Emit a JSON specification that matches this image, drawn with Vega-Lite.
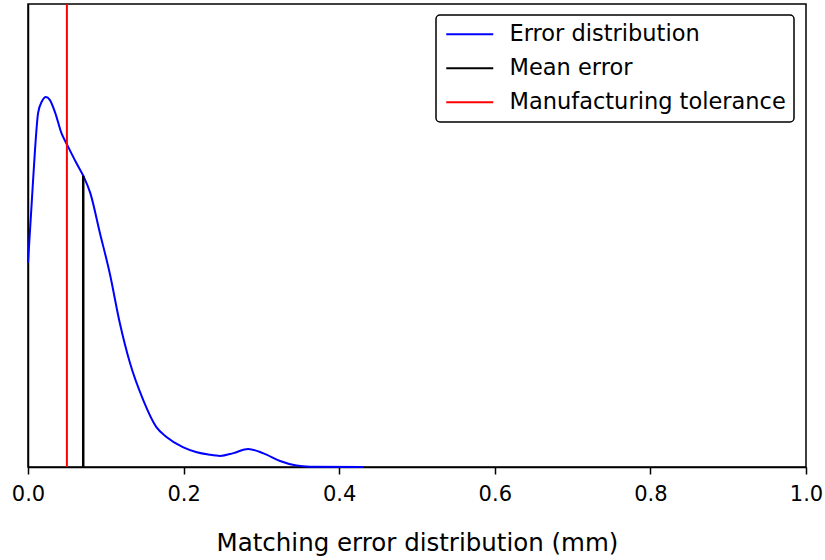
{
  "$schema": "https://vega.github.io/schema/vega-lite/v6.json",
  "width": 778,
  "height": 463,
  "autosize": {"type": "none"},
  "padding": {"left": 28, "top": 4, "right": 19, "bottom": 93},
  "background": "white",
  "config": {
    "font": "DejaVu Sans",
    "view": {"stroke": "black", "strokeWidth": 1.5},
    "axis": {"grid": false, "domainColor": "black", "domainWidth": 1.5, "tickColor": "black", "tickWidth": 1.5, "labelColor": "black", "titleColor": "black", "labelFont": "DejaVu Sans", "titleFont": "DejaVu Sans"},
    "legend": {"strokeColor": "black", "strokeWidth": 1.5, "fillColor": "white", "cornerRadius": 4, "padding": 8, "labelFont": "DejaVu Sans", "labelFontSize": 22.5, "labelColor": "black", "labelLimit": 500, "symbolType": "M-0.9,0H3.8", "symbolStrokeWidth": 2, "symbolSize": 400, "labelOffset": 43, "rowPadding": 11}
  },
  "datasets": {
    "curve": [
      {"x": 0, "d": 4.41, "series": "Error distribution"},
      {"x": 0.005, "d": 5.77, "series": "Error distribution"},
      {"x": 0.009, "d": 6.85, "series": "Error distribution"},
      {"x": 0.013, "d": 7.65, "series": "Error distribution"},
      {"x": 0.018, "d": 7.9, "series": "Error distribution"},
      {"x": 0.023, "d": 7.99, "series": "Error distribution"},
      {"x": 0.028, "d": 7.93, "series": "Error distribution"},
      {"x": 0.035, "d": 7.65, "series": "Error distribution"},
      {"x": 0.043, "d": 7.21, "series": "Error distribution"},
      {"x": 0.05, "d": 6.97, "series": "Error distribution"},
      {"x": 0.062, "d": 6.57, "series": "Error distribution"},
      {"x": 0.071, "d": 6.29, "series": "Error distribution"},
      {"x": 0.08, "d": 5.92, "series": "Error distribution"},
      {"x": 0.0925, "d": 5.05, "series": "Error distribution"},
      {"x": 0.105, "d": 4.19, "series": "Error distribution"},
      {"x": 0.118, "d": 3.11, "series": "Error distribution"},
      {"x": 0.131, "d": 2.25, "series": "Error distribution"},
      {"x": 0.148, "d": 1.45, "series": "Error distribution"},
      {"x": 0.165, "d": 0.86, "series": "Error distribution"},
      {"x": 0.178, "d": 0.65, "series": "Error distribution"},
      {"x": 0.199, "d": 0.43, "series": "Error distribution"},
      {"x": 0.217, "d": 0.32, "series": "Error distribution"},
      {"x": 0.232, "d": 0.27, "series": "Error distribution"},
      {"x": 0.247, "d": 0.24, "series": "Error distribution"},
      {"x": 0.264, "d": 0.3, "series": "Error distribution"},
      {"x": 0.283, "d": 0.39, "series": "Error distribution"},
      {"x": 0.302, "d": 0.3, "series": "Error distribution"},
      {"x": 0.324, "d": 0.13, "series": "Error distribution"},
      {"x": 0.345, "d": 0.03, "series": "Error distribution"},
      {"x": 0.362, "d": 0.006, "series": "Error distribution"},
      {"x": 0.431, "d": 0, "series": "Error distribution"}
    ],
    "mean": [{"x": 0.071, "lo": 0, "hi": 6.29, "series": "Mean error"}],
    "tol": [{"x": 0.05, "series": "Manufacturing tolerance"}]
  },
  "layer": [
    {
      "data": {"name": "curve"},
      "mark": {"type": "line", "interpolate": "monotone", "strokeWidth": 2},
      "encoding": {
        "x": {"field": "x", "type": "quantitative", "scale": {"domain": [0, 1], "nice": false}, "axis": {"title": "Matching error distribution (mm)", "values": [0, 0.2, 0.4, 0.6, 0.8, 1.0], "format": ".1f", "labelFontSize": 21, "titleFontSize": 24.5, "titleFontWeight": "normal", "tickSize": 7, "labelPadding": 9, "titlePadding": 27, "labelFlush": false}},
        "y": {"field": "d", "type": "quantitative", "scale": {"domain": [0, 10], "nice": false, "zero": true}, "axis": {"title": null, "labels": false, "ticks": false}},
        "color": {"field": "series", "type": "nominal", "scale": {"domain": ["Error distribution", "Mean error", "Manufacturing tolerance"], "range": ["#0000ff", "#000000", "#ff0000"]}, "legend": {"title": null, "orient": "none", "legendX": 408, "legendY": 11}}
      }
    },
    {
      "data": {"name": "mean"},
      "mark": {"type": "rule", "strokeWidth": 2.5},
      "encoding": {
        "x": {"field": "x", "type": "quantitative"},
        "y": {"field": "lo", "type": "quantitative"},
        "y2": {"field": "hi"},
        "color": {"field": "series", "type": "nominal"}
      }
    },
    {
      "data": {"name": "tol"},
      "mark": {"type": "rule", "strokeWidth": 2},
      "encoding": {
        "x": {"field": "x", "type": "quantitative"},
        "color": {"field": "series", "type": "nominal"}
      }
    }
  ]
}
